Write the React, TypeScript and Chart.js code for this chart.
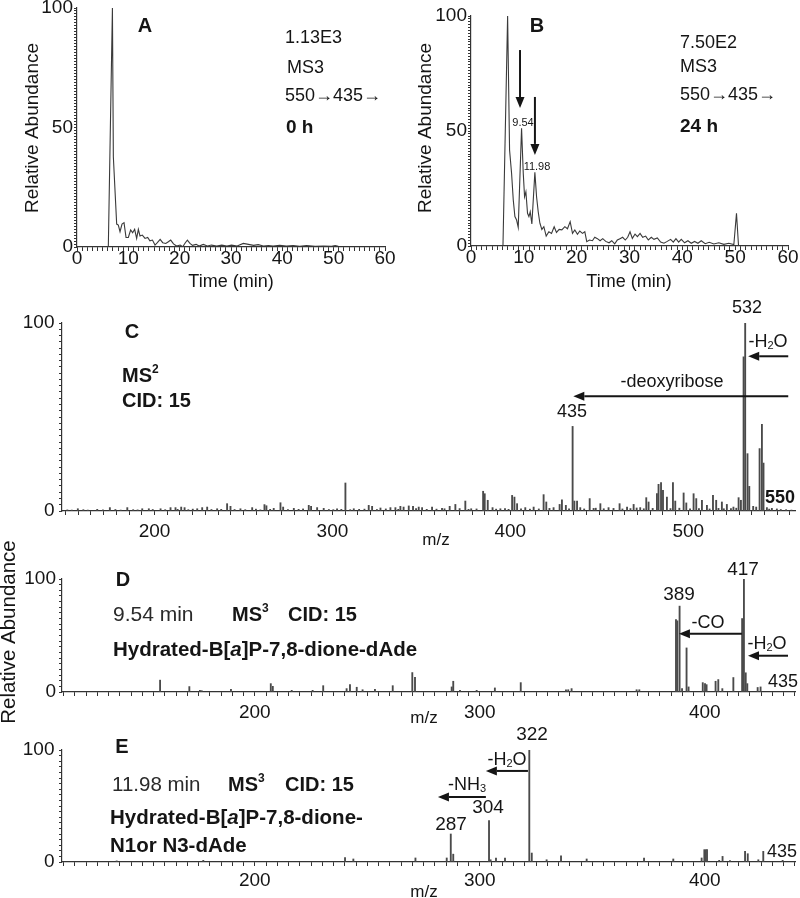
import React, { useEffect, useRef } from 'react';
import { Chart, registerables } from 'chart.js';

Chart.register(...registerables);

const FONT = "'Liberation Sans', Arial, Helvetica, sans-serif";
const INK = '#151515';
const TRACE = '#3a3a3a';
const STICK = '#4a4a4a';
const AXIS = '#333333';

// ---------------- data ----------------
// Panel A: chromatogram, 0 h
const timeA = [0, 6.1, 6.9, 7.08, 7.73, 8.05, 8.38, 8.77, 9.16, 9.55, 10.0, 10.45, 10.84, 11.23, 11.62, 11.95, 12.27, 12.73, 13.25, 13.77, 14.2, 14.7, 15.2, 15.65, 16.2, 16.7, 17.3, 17.8, 18.25, 18.8, 19.4, 20.1, 20.6, 21.1, 21.5, 22.0, 22.5, 23.2, 23.8, 24.6, 25.4, 26.2, 27.2, 28.2, 29.2, 30.1, 31.2, 32.4, 33.4, 34.4, 35.3, 36.3, 37.3, 38.2, 39.5, 40.8, 42.1, 43.4, 44.7, 46.4, 48.0, 49.6, 50.3, 50.9];
const abundanceA = [0, 0, 100, 37.8, 9.6, 9.2, 6.4, 9.6, 10.2, 4.0, 4.0, 7.1, 6.0, 7.4, 3.6, 7.4, 4.6, 5.0, 3.6, 4.0, 2.6, 2.9, 0.8, 1.8, 3.2, 1.8, 1.5, 2.2, 2.9, 1.3, 0.4, 0.8, 0.1, 1.8, 2.9, 1.5, 0.7, 1.1, 0.4, 1.1, 0.4, 0.8, 0.4, 0.8, 0.4, 0.8, 0.4, 1.5, 1.1, 0.7, 1.0, 0.4, 0.6, 0.4, 0.7, 0.4, 0.6, 0.3, 0.6, 0.3, 0.4, 0.3, 0.6, 0.3];

// Panel B: chromatogram, 24 h
const timeB = [0, 6.05, 6.93, 7.3, 7.68, 8.0, 8.31, 8.63, 8.94, 9.57, 9.89, 10.14, 10.39, 10.7, 10.96, 11.21, 11.52, 12.09, 12.41, 12.72, 13.04, 13.41, 13.79, 14.23, 14.74, 15.24, 15.74, 16.18, 16.69, 17.19, 17.76, 18.26, 18.77, 19.21, 19.65, 20.15, 20.59, 21.1, 21.54, 21.91, 22.42, 22.98, 23.43, 23.93, 24.43, 24.94, 25.5, 26.13, 26.64, 27.2, 27.7, 28.2, 28.7, 29.2, 29.66, 30.1, 30.54, 31.05, 31.5, 32.0, 32.5, 33.06, 33.56, 34.13, 34.63, 35.26, 35.9, 36.52, 37.15, 37.78, 38.29, 38.79, 39.3, 39.8, 40.43, 41.06, 41.69, 42.32, 42.95, 43.58, 44.33, 45.09, 45.97, 46.91, 47.86, 48.8, 49.75, 50.25, 50.63];
const abundanceB = [0, 0, 100, 41.7, 31.6, 20, 12.8, 11.3, 8.1, 51.2, 31.6, 21.4, 23.6, 14.2, 12.8, 14.9, 9.6, 32.0, 21.4, 14.9, 9.9, 7.2, 8.4, 4.3, 6.2, 5.5, 8.4, 5.9, 7.2, 7.0, 8.4, 7.5, 10.6, 5.5, 7.0, 5.1, 6.5, 5.5, 6.2, 1.9, 2.6, 2.3, 3.8, 3.2, 2.3, 3.2, 2.0, 1.4, 2.3, 0.9, 2.6, 3.2, 3.8, 2.6, 3.8, 6.2, 3.3, 5.2, 4.1, 5.5, 3.8, 4.3, 2.6, 3.8, 2.9, 3.5, 1.7, 1.2, 2.0, 2.9, 1.7, 3.2, 1.7, 2.9, 1.4, 2.3, 1.2, 2.0, 1.2, 2.3, 1.0, 1.6, 0.9, 1.4, 0.7, 1.2, 0.6, 14.2, 0.3];

// Panel C: MS2 spectrum
const mzC = [156.9, 167.8, 174.9, 184.7, 193.1, 196.8, 203.4, 209.0, 211.8, 215.0, 216.9, 224.0, 226.8, 229.6, 235.2, 240.8, 242.7, 248.3, 254.9, 261.8, 262.9, 267.0, 270.8, 272.3, 278.3, 286.7, 288.0, 291.4, 295.1, 302.6, 307.3, 312.0, 320.4, 322.3, 327.0, 332.6, 335.4, 338.2, 340.0, 342.9, 345.3, 348.5, 350.4, 356.0, 361.6, 365.9, 369.1, 374.7, 378.0, 384.7, 385.6, 387.3, 390.0, 394.4, 401.0, 402.3, 403.8, 408.4, 413.1, 418.7, 420.2, 424.3, 427.7, 429.0, 431.2, 435.0, 436.0, 437.5, 439.3, 444.6, 446.8, 450.6, 455.2, 461.4, 465.6, 469.3, 473.0, 476.4, 477.7, 482.4, 483.3, 484.7, 485.8, 488.0, 491.4, 492.7, 497.4, 498.9, 503.0, 504.5, 507.7, 510.5, 513.9, 515.7, 518.9, 521.7, 525.4, 528.3, 529.6, 531.1, 532.0, 533.3, 534.3, 536.5, 538.2, 540.1, 541.4, 542.3, 544.2, 547.0, 549.8];
const intensityC = [1.2, 0.9, 1.8, 1.8, 1.2, 1.2, 1.2, 1.8, 1.8, 2.1, 1.8, 1.2, 1.8, 2.1, 1.2, 3.9, 2.5, 1.2, 1.8, 3.4, 2.8, 1.4, 4.4, 2.1, 1.4, 3.0, 2.5, 1.8, 1.4, 1.2, 14.9, 1.2, 3.0, 2.5, 1.6, 1.8, 1.8, 2.5, 2.1, 2.7, 2.5, 2.1, 1.8, 2.1, 1.4, 2.5, 3.5, 5.3, 1.2, 10.5, 9.2, 5.7, 1.8, 1.2, 8.3, 7.4, 3.9, 1.8, 2.1, 8.7, 4.8, 1.8, 3.5, 6.0, 3.0, 45, 5.3, 5.3, 1.8, 6.6, 1.4, 3.9, 1.8, 3.9, 2.1, 3.5, 1.8, 7.1, 4.8, 9.2, 14.2, 15.1, 11, 7.4, 15.1, 5.3, 9.6, 4.3, 9.2, 6.6, 5.7, 3.0, 8.3, 5.7, 4.8, 3.5, 2.1, 7.1, 5.7, 82, 100, 30.5, 13.1, 2.5, 2.1, 33.2, 46.1, 25.5, 1.8, 1.4, 1.1];
const mzCNoise = [151, 153.5, 160, 162.5, 171, 178, 181, 188, 190.5, 199, 206, 213, 219, 221.5, 232, 237.5, 245, 251, 257, 259.5, 265, 275, 281, 283.5, 298, 300.5, 305, 310, 315, 318, 325, 330, 337, 347, 353, 358.5, 363, 371.5, 376.5, 381, 392, 397, 399, 406, 411, 416, 422, 433, 441.5, 448, 452.5, 458, 463, 467.5, 471, 475, 480, 490, 495, 501, 506, 512, 517, 520, 524, 527, 545.5, 552, 555, 558];
const intensityCNoise = [0.6, 0.5, 0.7, 0.5, 0.6, 0.8, 0.5, 0.7, 0.6, 0.8, 0.7, 0.9, 0.7, 1.0, 0.8, 0.9, 0.8, 0.7, 1.0, 0.6, 0.9, 0.8, 0.9, 1.1, 0.8, 0.7, 0.9, 0.7, 0.9, 1.0, 0.8, 1.1, 0.9, 1.3, 0.9, 1.0, 1.2, 1.3, 0.9, 1.1, 1.0, 1.3, 0.9, 1.2, 1.0, 1.1, 1.4, 1.2, 1.1, 1.5, 1.2, 1.4, 1.1, 1.3, 1.6, 1.2, 1.4, 1.3, 1.5, 1.2, 1.3, 1.1, 1.4, 1.2, 1.3, 1.5, 1.0, 0.8, 0.7, 0.5];

// Panel D: MS3 spectrum at 9.54 min
const mzD = [157.9, 170.9, 175.6, 176.4, 189.4, 207.1, 208.0, 216.4, 225.7, 230.4, 240.8, 242.3, 245.3, 247.9, 253.4, 261.3, 270.0, 271.2, 287.5, 288.2, 291.2, 298.6, 306.7, 318.2, 338.3, 339.3, 340.8, 369.7, 370.9, 387.2, 387.8, 388.8, 389.9, 391.9, 392.8, 399.1, 400.1, 400.8, 404.8, 406.0, 407.8, 412.7, 416.6, 417.4, 418.2, 418.9, 423.5, 424.8];
const intensityD = [10.5, 4.8, 1.5, 1.2, 2.3, 7.4, 5.0, 1.5, 1.5, 5.6, 3.0, 6.6, 4.2, 2.0, 2.4, 5.6, 17.2, 13.0, 4.5, 9.5, 1.5, 1.5, 3.6, 8.3, 2.0, 2.0, 3.0, 2.0, 2.0, 64, 63, 76, 3.0, 39, 4.5, 8.3, 7.4, 6.5, 9.5, 11, 3.0, 12.8, 65, 100, 17, 7.4, 4.0, 4.5];

// Panel E: MS3 spectrum at 11.98 min
const mzE = [138.6, 177.1, 240.1, 243.8, 271.4, 285.3, 287.1, 288.2, 304.1, 304.8, 307.2, 311.2, 322.0, 323.1, 329.7, 336.1, 347.5, 373.0, 386.0, 398.6, 399.8, 400.4, 401.0, 406.4, 407.9, 411.2, 417.9, 419.1, 423.8, 426.0, 434.6];
const intensityE = [1.0, 1.5, 4.0, 2.7, 3.6, 3.6, 25, 7, 37, 2, 3.6, 3.6, 100, 8, 2, 5.6, 2.7, 3.6, 2.7, 3.6, 11, 11, 11, 1.5, 5, 1.2, 9.5, 7.4, 2, 9.5, 1.5];

// tick labels
const timeTickLabels = [0, 10, 20, 30, 40, 50, 60];
const abundanceLabelsAB = [0, 50, 100];
const abundanceLabelsSpec = [0, 100];
const mzTickLabelsC = [200, 300, 400, 500];
const mzTickLabelsDE = [200, 300, 400];

// ---------------- helpers ----------------
type Seg = { t: string; b?: boolean; i?: boolean; sup?: boolean; sub?: boolean };
type Txt = { segs: Seg[]; x: number; y: number; size: number; align?: 'left' | 'center'; rot?: boolean; color?: string };
type Arrow = { x1: number; y1: number; x2: number; y2: number };
type Panel = {
  key: string; left: number; top: number; width: number; height: number;
  area: [number, number, number, number];
  kind: 'line' | 'bar';
  series: { x: number[]; y: number[] }[];
  xMin: number; xMax: number; xTicks: number[]; xLabels: number[]; xPad: number;
  yTicks: number[]; yLabels: number[]; yPad: number;
  texts: Txt[]; arrows: Arrow[];
};

const seq = (a: number, b: number, step: number) => {
  const out: number[] = [];
  const n = Math.round((b - a) / step);
  for (let k = 0; k <= n; k++) out.push(+(a + k * step).toFixed(6));
  return out;
};
const S = (t: string, o: Partial<Seg> = {}): Seg => ({ t, ...o });
const T = (t: string, x: number, y: number, size: number, o: Partial<Txt> & { b?: boolean } = {}): Txt => ({
  segs: [S(t, { b: o.b })], x, y, size, align: o.align || 'left', rot: o.rot, color: o.color,
});
const H2O = (x: number, y: number): Txt => ({ segs: [S('-H'), S('2', { sub: true }), S('O')], x, y, size: 18, align: 'center' });

function segFont(sg: Seg, size: number) {
  const sz = sg.sup || sg.sub ? Math.round(size * 0.62) : size;
  return `${sg.i ? 'italic ' : ''}${sg.b ? 'bold ' : ''}${sz}px ${FONT}`;
}

function drawRich(ctx: CanvasRenderingContext2D, t: Txt, ox: number, oy: number) {
  ctx.save();
  ctx.fillStyle = t.color || INK;
  ctx.textBaseline = 'middle';
  ctx.textAlign = 'left';
  const widths = t.segs.map((sg) => { ctx.font = segFont(sg, t.size); return ctx.measureText(sg.t).width; });
  const total = widths.reduce((a, b) => a + b, 0);
  let x0 = t.align === 'center' ? -total / 2 : 0;
  ctx.translate(t.x - ox, t.y - oy);
  if (t.rot) ctx.rotate(-Math.PI / 2);
  t.segs.forEach((sg, i) => {
    ctx.font = segFont(sg, t.size);
    const dy = sg.sup ? -t.size * 0.34 : sg.sub ? t.size * 0.24 : 0;
    ctx.fillText(sg.t, x0, dy);
    x0 += widths[i];
  });
  ctx.restore();
}

function drawArrow(ctx: CanvasRenderingContext2D, x1: number, y1: number, x2: number, y2: number) {
  const ang = Math.atan2(y2 - y1, x2 - x1);
  const head = 11, half = 4.5;
  const bx = x2 - Math.cos(ang) * head, by = y2 - Math.sin(ang) * head;
  ctx.lineWidth = 2;
  ctx.beginPath(); ctx.moveTo(x1, y1); ctx.lineTo(bx, by); ctx.stroke();
  ctx.beginPath();
  ctx.moveTo(x2, y2);
  ctx.lineTo(bx + Math.sin(ang) * half, by - Math.cos(ang) * half);
  ctx.lineTo(bx - Math.sin(ang) * half, by + Math.cos(ang) * half);
  ctx.closePath(); ctx.fill();
}

function annotationPlugin(p: Panel) {
  return {
    id: 'ann_' + p.key,
    afterDraw(chart: any) {
      const ctx = chart.ctx as CanvasRenderingContext2D;
      const xs = chart.scales.x, ys = chart.scales.y;
      ctx.save();
      ctx.fillStyle = INK; ctx.strokeStyle = INK;
      for (const a of p.arrows) {
        drawArrow(ctx, xs.getPixelForValue(a.x1), ys.getPixelForValue(a.y1), xs.getPixelForValue(a.x2), ys.getPixelForValue(a.y2));
      }
      for (const t of p.texts) drawRich(ctx, t, p.left, p.top);
      ctx.restore();
    },
  };
}

const has = (arr: number[], v: number) => arr.some((a) => Math.abs(a - v) < 1e-4);

function buildConfig(p: Panel): any {
  const [l, t, r, b] = p.area;
  const yWidth = l - p.left;
  const xHeight = p.top + p.height - b;
  const padTop = t - p.top;
  const padRight = p.left + p.width - r;
  const datasets = p.series.map((sr) => ({
    data: sr.x.map((x, i) => ({ x, y: sr.y[i] })),
    ...(p.kind === 'line'
      ? { borderColor: TRACE, borderWidth: 1.1, pointRadius: 0, tension: 0, fill: false }
      : { backgroundColor: STICK, borderWidth: 0, barThickness: 1.2, grouped: false, categoryPercentage: 1, barPercentage: 1 }),
  }));
  const tickFont = { family: FONT, size: 19 };
  return {
    type: p.kind,
    data: { datasets },
    options: {
      responsive: false,
      maintainAspectRatio: false,
      animation: false,
      devicePixelRatio: 1,
      events: [],
      layout: { padding: { left: 0, top: padTop, right: padRight, bottom: 0 }, autoPadding: false },
      plugins: { legend: { display: false }, tooltip: { enabled: false }, title: { display: false } },
      scales: {
        x: {
          type: 'linear', min: p.xMin, max: p.xMax, offset: false,
          afterBuildTicks: (sc: any) => { sc.ticks = p.xTicks.map((v) => ({ value: v })); },
          afterFit: (sc: any) => { sc.height = xHeight; sc.paddingLeft = 0; sc.paddingRight = 0; sc.paddingTop = 0; sc.paddingBottom = 0; },
          ticks: {
            autoSkip: false, maxRotation: 0, minRotation: 0, padding: p.xPad, color: INK, font: tickFont,
            callback: (v: number) => (has(p.xLabels, v) ? String(Math.round(v)) : ''),
          },
          grid: { display: true, drawOnChartArea: false, drawTicks: true, tickLength: 4, color: AXIS, lineWidth: 1, offset: false },
          border: { display: true, color: AXIS, width: 1.2 },
        },
        y: {
          type: 'linear', min: 0, max: 100,
          afterBuildTicks: (sc: any) => { sc.ticks = p.yTicks.map((v) => ({ value: v })); },
          afterFit: (sc: any) => { sc.width = yWidth; sc.paddingLeft = 0; sc.paddingRight = 0; sc.paddingTop = 0; sc.paddingBottom = 0; },
          ticks: {
            autoSkip: false, padding: p.yPad, color: INK, font: tickFont,
            callback: (v: number) => (has(p.yLabels, v) ? String(Math.round(v)) : ''),
          },
          grid: { display: true, drawOnChartArea: false, drawTicks: true, tickLength: 3, color: AXIS, lineWidth: 1 },
          border: { display: true, color: AXIS, width: 1.2 },
        },
      },
    },
    plugins: [annotationPlugin(p)],
  };
}

// ---------------- panels ----------------
const ticksC: number[] = [];
for (let k = -7; k <= 50; k++) ticksC.push(+(200 + (k * 100) / 14).toFixed(6));

const hydratedSegs = (tail: string): Seg[] => [S('Hydrated-B[', { b: true }), S('a', { b: true, i: true }), S(tail, { b: true })];

const panels: Panel[] = [
  {
    key: 'A', left: 0, top: 0, width: 400, height: 300, area: [77, 8, 385, 247], kind: 'line',
    series: [{ x: timeA, y: abundanceA }],
    xMin: 0, xMax: 60, xTicks: seq(0, 60, 1), xLabels: timeTickLabels, xPad: -4,
    yTicks: seq(0, 100, 1.25), yLabels: abundanceLabelsAB, yPad: 1,
    arrows: [],
    texts: [
      T('A', 145, 26, 20, { b: true, align: 'center' }),
      T('1.13E3', 285, 38, 18),
      T('MS3', 287, 68, 18),
      T('550\u2192435\u2192', 285, 96, 18),
      T('0 h', 286, 128, 19, { b: true }),
      T('Relative Abundance', 33, 128, 19, { rot: true, align: 'center' }),
      T('Time (min)', 231, 282, 18, { align: 'center' }),
    ],
  },
  {
    key: 'B', left: 400, top: 0, width: 400, height: 300, area: [471, 16, 788, 246], kind: 'line',
    series: [{ x: timeB, y: abundanceB }],
    xMin: 0, xMax: 60, xTicks: seq(0, 60, 1), xLabels: timeTickLabels, xPad: -4,
    yTicks: seq(0, 100, 1.25), yLabels: abundanceLabelsAB, yPad: 1,
    arrows: [
      { x1: 9.28, y1: 85.2, x2: 9.28, y2: 60 },
      { x1: 12.1, y1: 64.8, x2: 12.1, y2: 39.6 },
    ],
    texts: [
      T('B', 537, 26, 20, { b: true, align: 'center' }),
      T('7.50E2', 680, 43, 18),
      T('MS3', 680, 67, 18),
      T('550\u2192435\u2192', 680, 95, 18),
      T('24 h', 680, 127, 19, { b: true }),
      T('9.54', 523, 123, 11, { align: 'center' }),
      T('11.98', 537, 167, 11, { align: 'center' }),
      T('Relative Abundance', 426, 128, 19, { rot: true, align: 'center' }),
      T('Time (min)', 629, 282, 18, { align: 'center' }),
    ],
  },
  {
    key: 'C', left: 0, top: 290, width: 800, height: 262, area: [62, 323, 795, 511], kind: 'bar',
    series: [{ x: mzC, y: intensityC }, { x: mzCNoise, y: intensityCNoise }],
    xMin: 148, xMax: 560, xTicks: ticksC, xLabels: mzTickLabelsC, xPad: 5,
    yTicks: seq(0, 100, 100 / 30), yLabels: abundanceLabelsSpec, yPad: 4.5,
    arrows: [
      { x1: 556.2, y1: 82.3, x2: 533.7, y2: 82.3 },
      { x1: 556.2, y1: 61, x2: 435.4, y2: 61 },
    ],
    texts: [
      T('C', 132, 332, 20, { b: true, align: 'center' }),
      { segs: [S('MS', { b: true }), S('2', { b: true, sup: true })], x: 122, y: 376, size: 20 },
      T('CID: 15', 122, 401, 20, { b: true }),
      T('532', 747, 308, 18, { align: 'center' }),
      H2O(768, 342),
      T('-deoxyribose', 672, 382, 18, { align: 'center' }),
      T('435', 572, 412, 18, { align: 'center' }),
      T('550', 780, 498, 18, { b: true, align: 'center' }),
      T('m/z', 436, 540, 17, { align: 'center' }),
    ],
  },
  {
    key: 'D', left: 0, top: 530, width: 800, height: 270, area: [62, 579, 795, 692], kind: 'bar',
    series: [{ x: mzD, y: intensityD }],
    xMin: 114.3, xMax: 440.1, xTicks: seq(115, 440, 5), xLabels: mzTickLabelsDE, xPad: 5,
    yTicks: seq(0, 100, 5), yLabels: abundanceLabelsSpec, yPad: 3,
    arrows: [
      { x1: 416.5, y1: 51.6, x2: 388.5, y2: 51.6 },
      { x1: 437.0, y1: 32.1, x2: 419.2, y2: 32.1 },
    ],
    texts: [
      T('D', 123, 580, 20, { b: true, align: 'center' }),
      T('9.54 min', 113, 615, 21, { color: '#2a2a2a' }),
      { segs: [S('MS', { b: true }), S('3', { b: true, sup: true })], x: 232, y: 615, size: 20 },
      T('CID: 15', 288, 615, 20, { b: true }),
      { segs: hydratedSegs(']P-7,8-dione-dAde'), x: 113, y: 650, size: 20.5 },
      T('389', 679, 595, 19, { align: 'center' }),
      T('417', 743, 570, 19, { align: 'center' }),
      T('-CO', 708, 623, 18, { align: 'center' }),
      H2O(767, 644),
      T('435', 783, 682, 18, { align: 'center' }),
      T('m/z', 424, 718, 17, { align: 'center' }),
      T('Relative Abundance', 9, 632, 20.5, { rot: true, align: 'center' }),
    ],
  },
  {
    key: 'E', left: 0, top: 725, width: 800, height: 173, area: [62, 750, 795, 862], kind: 'bar',
    series: [{ x: mzE, y: intensityE }],
    xMin: 114.3, xMax: 440.1, xTicks: seq(115, 440, 5), xLabels: mzTickLabelsDE, xPad: 3.6,
    yTicks: seq(0, 100, 5), yLabels: abundanceLabelsSpec, yPad: 4.5,
    arrows: [
      { x1: 321.4, y1: 81.3, x2: 302.7, y2: 81.3 },
      { x1: 302.7, y1: 58.1, x2: 281.4, y2: 58.1 },
    ],
    texts: [
      T('E', 122, 747, 20, { b: true, align: 'center' }),
      T('11.98 min', 112, 785, 20.5, { color: '#2a2a2a' }),
      { segs: [S('MS', { b: true }), S('3', { b: true, sup: true })], x: 228, y: 785, size: 20 },
      T('CID: 15', 285, 785, 20, { b: true }),
      { segs: hydratedSegs(']P-7,8-dione-'), x: 110, y: 818, size: 20.5 },
      T('N1or N3-dAde', 110, 846, 20.5, { b: true }),
      T('322', 532, 735, 19, { align: 'center' }),
      H2O(507, 760),
      { segs: [S('-NH'), S('3', { sub: true })], x: 467, y: 785, size: 18, align: 'center' },
      T('304', 488, 808, 19, { align: 'center' }),
      T('287', 451, 825, 19, { align: 'center' }),
      T('435', 782, 852, 18, { align: 'center' }),
      T('m/z', 424, 892, 17, { align: 'center' }),
    ],
  },
];

function PanelChart({ p }: { p: Panel }) {
  const ref = useRef<HTMLCanvasElement>(null);
  useEffect(() => {
    const canvas = ref.current;
    if (!canvas) return;
    const chart = new Chart(canvas, buildConfig(p));
    return () => chart.destroy();
  }, [p]);
  return (
    <canvas
      ref={ref}
      width={p.width}
      height={p.height}
      style={{ position: 'absolute', left: p.left, top: p.top, width: p.width, height: p.height }}
    />
  );
}

export default function App() {
  return (
    <div style={{ position: 'absolute', left: 0, top: 0, width: 800, height: 898, background: '#ffffff', overflow: 'hidden' }}>
      {panels.map((p) => (
        <PanelChart key={p.key} p={p} />
      ))}
    </div>
  );
}
